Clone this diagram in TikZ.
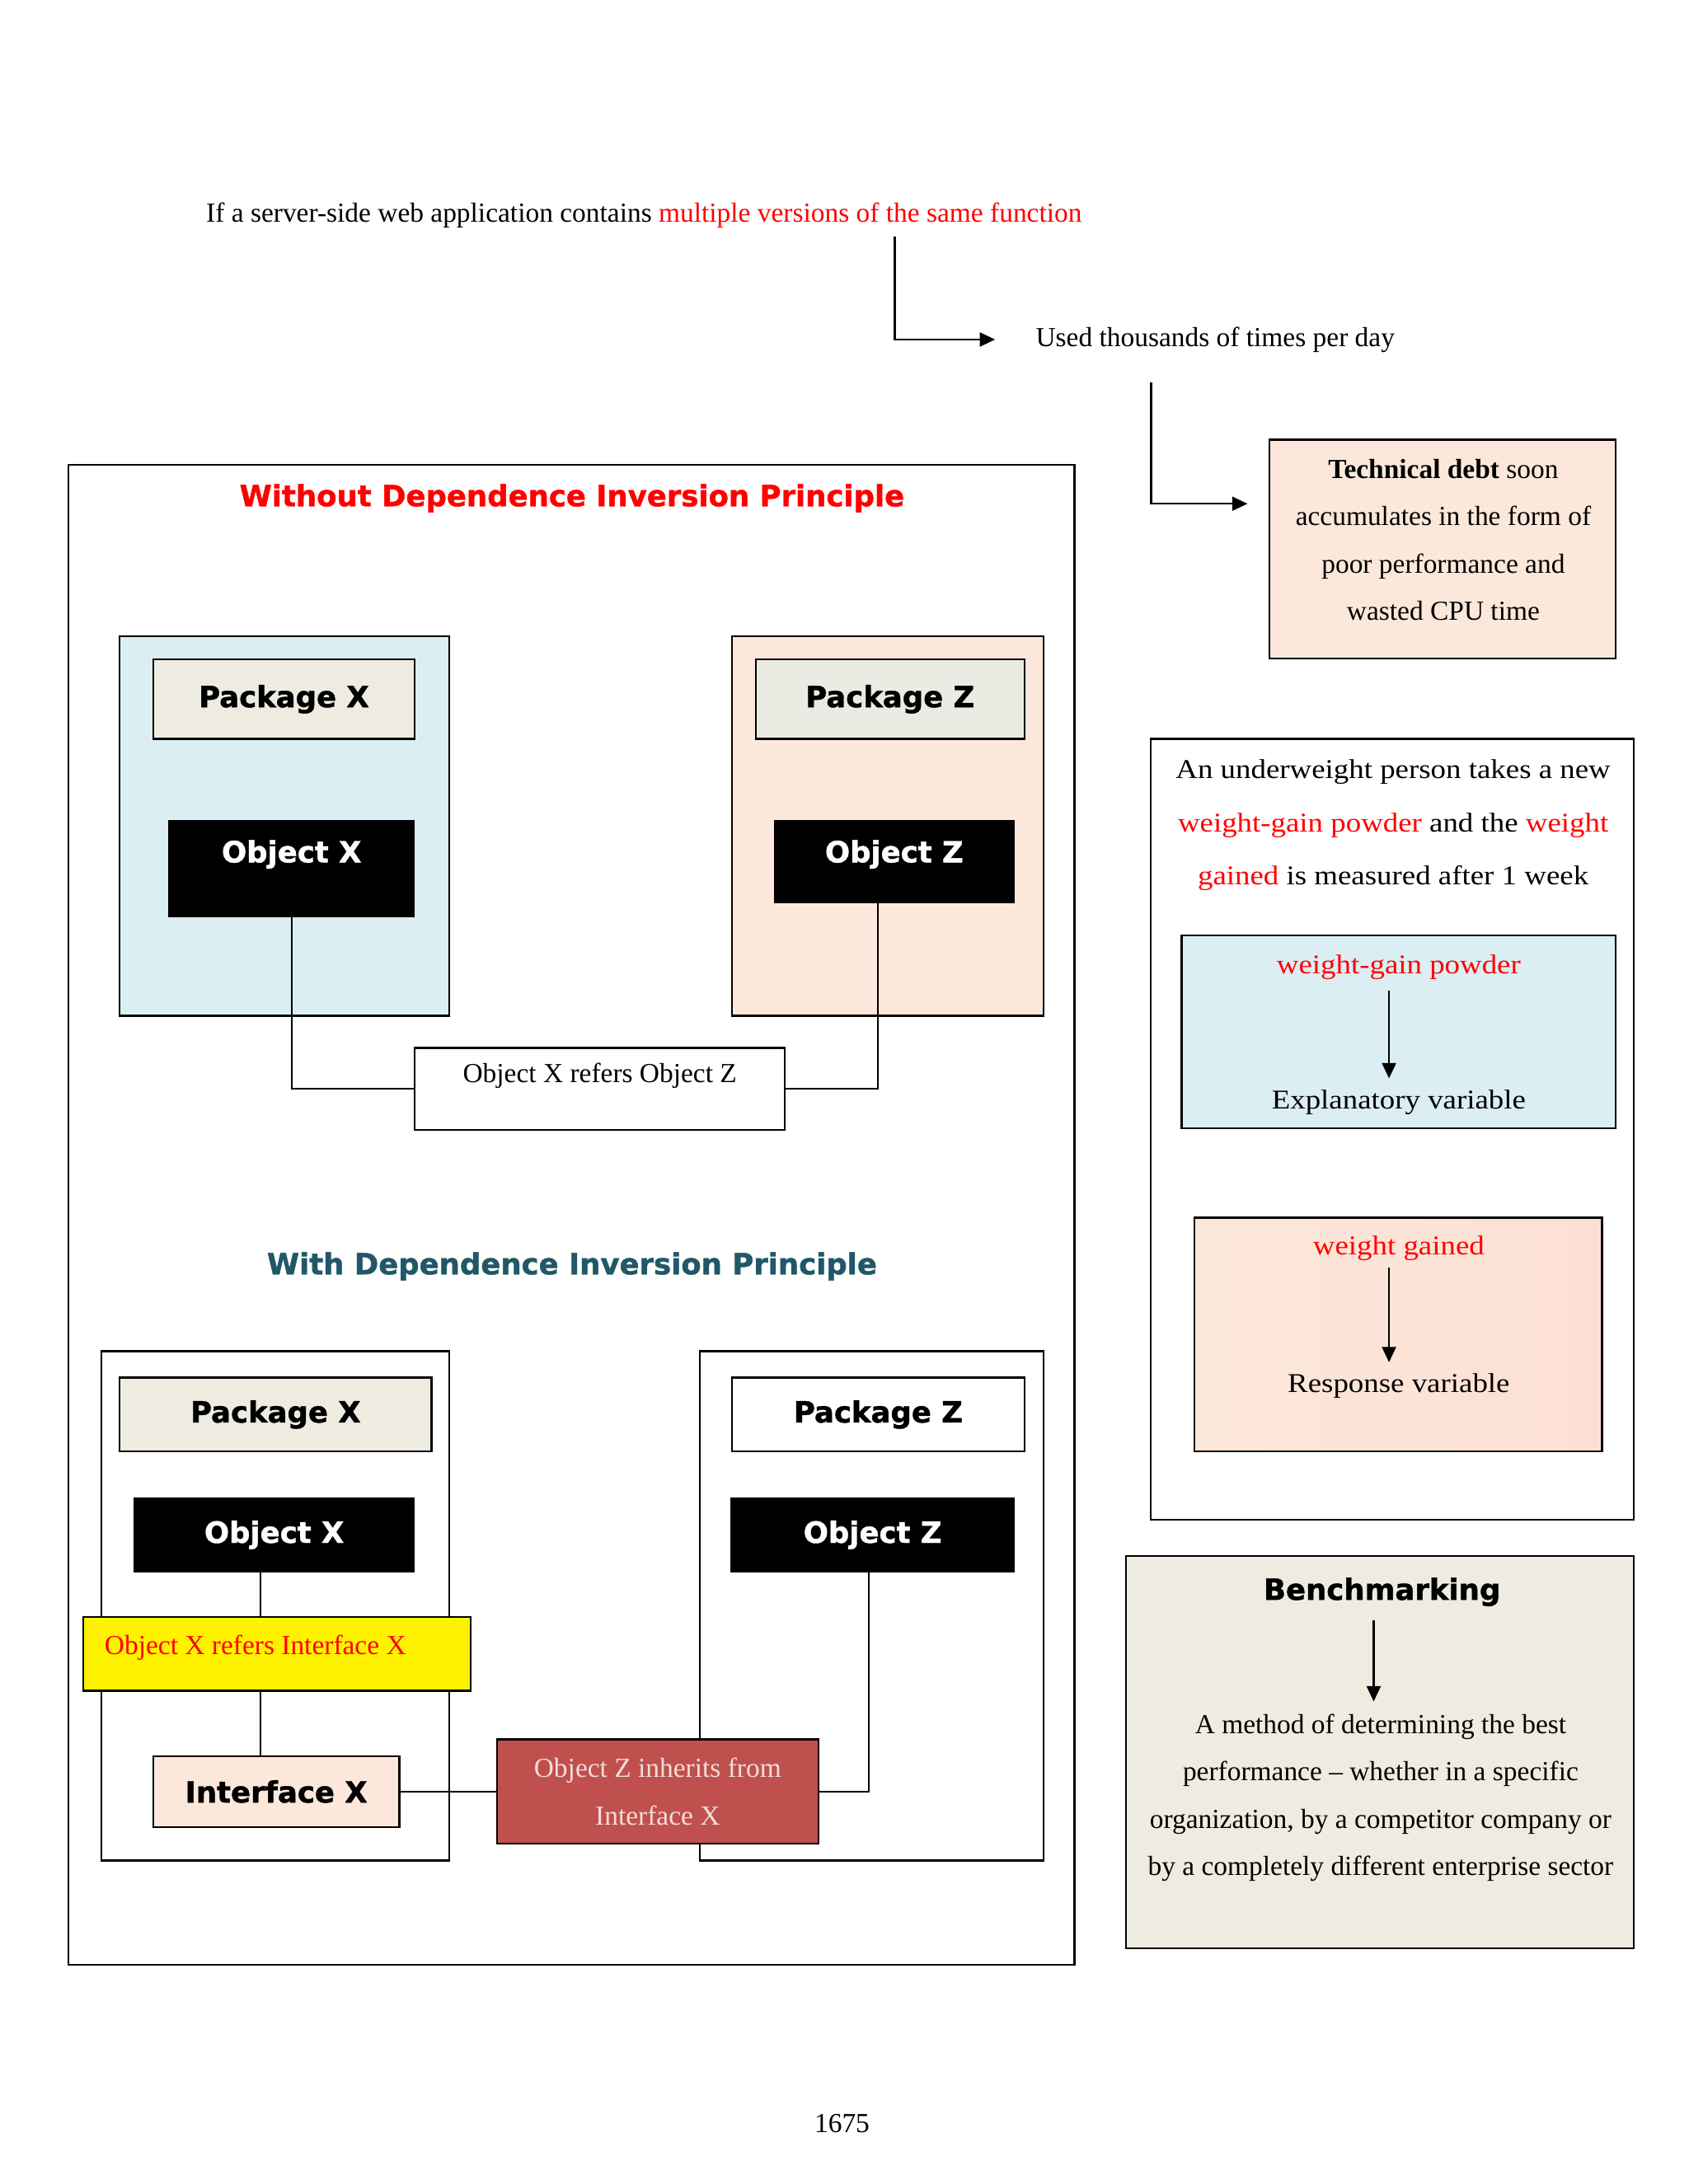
\documentclass[tikz,border=0pt]{standalone}
\usepackage{fontspec}
\setmainfont{Liberation Serif}
\newfontfamily\headfont[BoldFeatures={FakeBold=1.2}]{DejaVu Sans}
\newfontfamily\widefont[FakeStretch=1.12]{Liberation Serif}
\usepackage{xcolor}
\usetikzlibrary{positioning,calc,arrows.meta}

\definecolor{peach}{HTML}{FCE8DA}
\definecolor{paleblue}{HTML}{DBEEF3}
\definecolor{stone}{HTML}{EEECE1}
\definecolor{stonegreen}{HTML}{EAEBE3}
\definecolor{brick}{HTML}{C0504D}
\definecolor{dipteal}{HTML}{215868}
\definecolor{pinktext}{HTML}{F2DCDB}

\begin{document}
\begin{tikzpicture}[x=1pt,y=-1pt,
    font=\fontsize{19.8}{34}\selectfont,
    box/.style={draw, line width=1.3pt, inner sep=0pt},
    sz/.style 2 args={minimum width=#1pt, minimum height=#2pt},
    txt/.style={inner sep=0pt},
    head/.style={inner sep=0pt, font=\headfont\bfseries\fontsize{21}{25}\selectfont},
    wide/.style={inner sep=0pt, font=\widefont\fontsize{19.5}{38}\selectfont},
    objbox/.style={fill=black, inner sep=0pt},
    link/.style={line width=1.2pt},
    arr/.style={-{Triangle[length=11pt,width=10pt]}, line width=1.5pt}]

    \useasboundingbox (0,0) rectangle (1213,1569.5);

    % Top chain
    \node[txt, anchor=west] (intro) at (148,155) {If a server-side web application contains \textcolor{red}{multiple versions of the same function}};
    \coordinate (c1) at (643,170);
    \node[txt, anchor=west] (used) at (744,244) {Used thousands of times per day};
    \coordinate (c2) at (827,275);
    \node[box, fill=peach, sz={249}{157}] (debt) at (1036.5,394.5) {};
    \node[txt, align=center] (debtt) at (1037,388) {\textbf{Technical debt} soon\\accumulates in the form of\\poor performance and\\wasted CPU time};
    \draw[arr] (c1) |- ($(used.west)+(-29,0)$);
    \draw[arr] (c2) |- ($(debt.west)+(-15,-32.5)$);

    % Without DIP
    \node[box, sz={723}{1078}] (frame) at (410.5,873) {};
    \node[head, text=red] (title1) at (411,358) {Without Dependence Inversion Principle};
    \node[box, fill=paleblue, sz={237}{273}] (pkx) at (204.5,593.5) {};
    \node[box, fill=stone, sz={188}{57}, head] (pkxl) at (204,502.5) {Package X};
    \node[objbox, sz={177}{70}] (obx) at (209.5,624) {};
    \node[head, text=white] (obxt) at (209.5,614) {Object X};
    \node[box, fill=peach, sz={224}{273}] (pkz) at (638,593.5) {};
    \node[box, fill=stonegreen, sz={193}{57}, head] (pkzl) at (639.5,502.5) {Package Z};
    \node[objbox, sz={173}{60}] (obz) at (642.5,619) {};
    \node[head, text=white] (obzt) at (642.5,614) {Object Z};
    \node[box, fill=white, sz={266}{59}] (refz) at (431,782.5) {};
    \node[txt] (refzt) at (431,773) {Object X refers Object Z};
    \draw[link] (obx.south) |- (refz.west);
    \draw[link] (refz.east) -| ($(obz.south)+(-11.5,0)$);

    % With DIP
    \node[head, text=dipteal] (title2) at (411,910) {With Dependence Inversion Principle};
    \node[box, sz={250}{366}] (pkx2) at (198,1154) {};
    \node[box, fill=stone, sz={224}{53}, head] (pkx2l) at (198,1016.5) {Package X};
    \node[objbox, sz={202}{54}, head, text=white] (obx2) at (197,1103) {Object X};
    \node[box, fill=yellow, sz={278}{53}] (yel) at (199,1188.5) {};
    \node[txt, anchor=west, text=red] (yelt) at (75,1184) {Object X refers Interface X};
    \node[box, fill=peach, sz={177}{51}, head] (ifx) at (198.5,1287.5) {Interface X};
    \node[box, sz={247}{366}] (pkz2) at (626.5,1154) {};
    \node[box, fill=white, sz={210}{53}, head] (pkz2l) at (631,1016.5) {Package Z};
    \node[objbox, sz={204}{54}, head, text=white] (obz2) at (627,1103) {Object Z};
    \node[box, fill=brick, sz={231}{75}, align=center, text=pinktext] (inh) at (472.5,1287.5) {Object Z inherits from\\Interface X};
    \draw[link] ($(obx2.south)+(-10,0)$) -- ($(yel.north)+(-12,0)$);
    \draw[link] ($(yel.south)+(-12,0)$) -- ($(ifx.north)+(-11.5,0)$);
    \draw[link] (ifx.east) -- (inh.west);
    \draw[link] (inh.east) -| ($(obz2.south)+(-3,0)$);

    % Variables
    \node[box, sz={347}{561}] (story) at (1000.5,811.5) {};
    \node[wide, align=center] (storyt) at (1001,593) {An underweight person takes a new\\\textcolor{red}{weight-gain powder} and the \textcolor{red}{weight}\\\textcolor{red}{gained} is measured after 1 week};
    \node[box, fill=paleblue, sz={312}{139}] (expbox) at (1005,741.5) {};
    \node[wide, text=red] (wgp) at (1005,695) {weight-gain powder};
    \node[wide] (expl) at (1005,792) {Explanatory variable};
    \draw[arr] ($(wgp.south)+(-7,8)$) -- ($(expl.north)+(-7,-8)$);
    \node[box, sz={293}{168}, left color=peach, right color=peach!80!pink] (respbox) at (1004.5,959) {};
    \node[wide, text=red] (wg) at (1005,897) {weight gained};
    \node[wide] (resp) at (1005,996) {Response variable};
    \draw[arr] ($(wg.south)+(-7,5)$) -- ($(resp.north)+(-7,-8)$);

    % Benchmarking
    \node[box, fill=stone, sz={365}{282}] (bench) at (991.5,1259) {};
    \node[head] (benchh) at (993,1144) {Benchmarking};
    \node[txt, align=center] (benchd) at (992,1292) {A method of determining the best\\performance \textendash{} whether in a specific\\organization, by a competitor company or\\by a completely different enterprise sector};
    \draw[arr] ($(benchh.south)+(-6,10)$) -- ($(benchd.north)+(-5,-9)$);

    % Page number
    \node[txt] (pagenum) at (605,1526) {1675};
\end{tikzpicture}
\end{document}
